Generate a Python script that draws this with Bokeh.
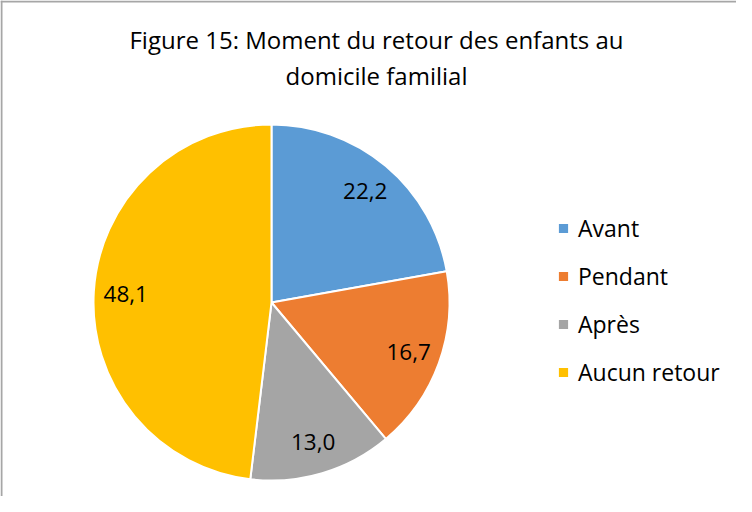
import numpy as np
from bokeh.plotting import figure
from bokeh.models import ColumnDataSource, Range1d, Span, Legend, LegendItem, Label
from bokeh.core.properties import value
from bokeh.embed import file_html
from bokeh.resources import INLINE

# ---- data ----
categories = ["Avant", "Pendant", "Après", "Aucun retour"]
values = [22.2, 16.7, 13.0, 48.1]
value_labels = ["22,2", "16,7", "13,0", "48,1"]
colors = ["#5B9BD5", "#ED7D31", "#A5A5A5", "#FFC000"]
title_lines = ["Figure 15: Moment du retour des enfants au", "domicile familial"]

# ---- layout (pixels) ----
W, H = 736, 496
CX, CY, R = 271, 194, 178
LABEL_R = 146
FONT = "Open Sans"

vals = np.array(values, dtype=float)
frac = vals / vals.sum()
cum = np.concatenate([[0.0], np.cumsum(frac)])
start = np.pi / 2 - cum[:-1] * 2 * np.pi
end = np.pi / 2 - cum[1:] * 2 * np.pi
mid = (start + end) / 2

src = ColumnDataSource(dict(
    cat=categories, start=start, end=end, color=colors,
    lx=CX + LABEL_R * np.cos(mid), ly=CY + LABEL_R * np.sin(mid), lab=value_labels,
))

p = figure(width=W, height=H, output_backend="svg", toolbar_location=None,
           x_range=Range1d(0, W), y_range=Range1d(0, H), min_border=0,
           outline_line_color=None, background_fill_color="white", border_fill_color="white")
p.axis.visible = False
p.grid.visible = False

wedges = p.wedge(x=CX, y=CY, radius=R, start_angle="start", end_angle="end",
                 direction="clock", fill_color="color", line_color="white", line_width=2,
                 source=src)

p.text(x="lx", y="ly", text="lab", source=src, text_align="center", text_baseline="middle",
       text_font=value(FONT), text_font_size="22.5px", text_color="#000000")

for i, t in enumerate(title_lines):
    p.add_layout(Label(x=376, y=457 - 36 * i, text=t, text_align="center", text_baseline="middle",
                       text_font=FONT, text_font_size="24px", text_color="#000000"))

items = [LegendItem(label=c, renderers=[wedges], index=i) for i, c in enumerate(categories)]
legend = Legend(items=items, location=(556, 108), orientation="vertical",
                glyph_width=14, glyph_height=14, label_height=20, spacing=16,
                label_standoff=8, padding=0, margin=0, border_line_color=None,
                background_fill_alpha=0, label_text_font=FONT, label_text_font_size="23px",
                label_text_color="#000000")
p.add_layout(legend)

# chart-area frame (left and top edges; right/bottom fall outside the window)
p.add_layout(Span(location=1, dimension="height", line_color="#A6A6A6", line_width=2))
p.add_layout(Span(location=H - 1, dimension="width", line_color="#A6A6A6", line_width=2))

open("out.html", "w").write(file_html(p, INLINE))
